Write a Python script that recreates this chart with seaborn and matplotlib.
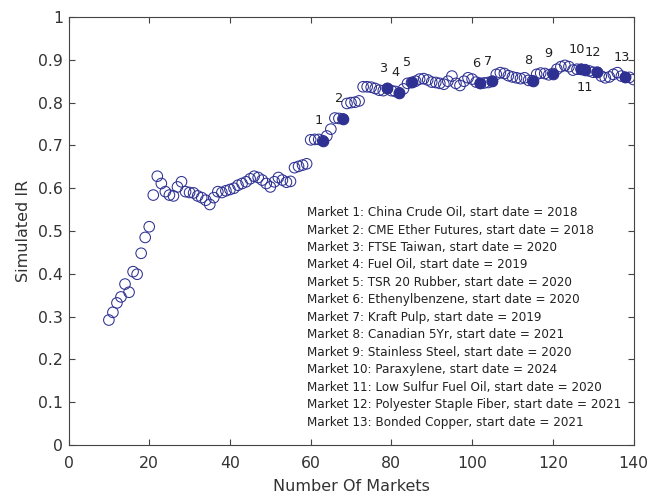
import seaborn as sns
import matplotlib.pyplot as plt
import pandas as pd

# simulated IR for each number of markets
n_markets = list(range(10, 141))
sim_ir = [
    0.292, 0.310, 0.332, 0.346, 0.376, 0.357, 0.405, 0.399, 0.448, 0.485,   # 10-19
    0.510, 0.584, 0.628, 0.611, 0.592, 0.584, 0.582, 0.603, 0.615, 0.592,   # 20-29
    0.590, 0.589, 0.582, 0.578, 0.572, 0.562, 0.578, 0.592, 0.590, 0.594,   # 30-39
    0.597, 0.600, 0.607, 0.611, 0.615, 0.622, 0.628, 0.625, 0.619, 0.611,   # 40-49
    0.603, 0.615, 0.625, 0.619, 0.614, 0.616, 0.648, 0.651, 0.654, 0.657,   # 50-59
    0.713, 0.714, 0.714, 0.711, 0.722, 0.738, 0.764, 0.763, 0.762, 0.798,   # 60-69
    0.800, 0.801, 0.804, 0.837, 0.837, 0.836, 0.833, 0.829, 0.828, 0.833,   # 70-79
    0.828, 0.826, 0.823, 0.832, 0.845, 0.847, 0.850, 0.855, 0.856, 0.853,   # 80-89
    0.848, 0.847, 0.845, 0.843, 0.850, 0.862, 0.845, 0.840, 0.850, 0.858,   # 90-99
    0.855, 0.848, 0.845, 0.846, 0.847, 0.850, 0.866, 0.870, 0.868, 0.863,   # 100-109
    0.860, 0.858, 0.856, 0.858, 0.852, 0.851, 0.866, 0.869, 0.868, 0.865,   # 110-119
    0.868, 0.878, 0.884, 0.887, 0.884, 0.876, 0.878, 0.878, 0.877, 0.874,   # 120-129
    0.871, 0.871, 0.862, 0.858, 0.860, 0.866, 0.870, 0.862, 0.859, 0.859,   # 130-139
    0.854,                                                                  # 140
]

# where each new market enters the portfolio
market_ids = list(range(1, 14))
market_pos = [63, 68, 79, 82, 85, 102, 105, 115, 120, 127, 128, 131, 138]
market_names = [
    "China Crude Oil", "CME Ether Futures", "FTSE Taiwan", "Fuel Oil",
    "TSR 20 Rubber", "Ethenylbenzene", "Kraft Pulp", "Canadian 5Yr",
    "Stainless Steel", "Paraxylene", "Low Sulfur Fuel Oil",
    "Polyester Staple Fiber", "Bonded Copper",
]
start_years = [2018, 2018, 2020, 2019, 2020, 2020, 2019, 2021, 2020, 2024, 2020, 2021, 2021]

df = pd.DataFrame({"n": n_markets, "ir": sim_ir})
marked = df[df["n"].isin(market_pos)]

sns.set_style("white")
plt.rcParams["font.family"] = ["DejaVu Sans"]

navy = "#2e3192"
fig = plt.figure(figsize=(6.55, 4.96), dpi=100)
ax = fig.add_axes([0.1046, 0.1028, 0.8626, 0.8629])

sns.scatterplot(data=df, x="n", y="ir", ax=ax, marker="o", s=58,
                facecolor="none", edgecolor=navy, linewidth=0.75)
sns.scatterplot(data=marked, x="n", y="ir", ax=ax, marker="o", s=58,
                color=navy, edgecolor=navy, linewidth=0.75)

# numbered labels next to each new market
for mid, pos in zip(market_ids, market_pos):
    yv = df.loc[df["n"] == pos, "ir"].iloc[0]
    if mid == 11:
        ax.text(pos, yv - 0.042, str(mid), ha="center", va="center", fontsize=9.3, color="#222222")
    else:
        ax.text(pos - 1.0, yv + 0.047, str(mid), ha="center", va="center", fontsize=9.3, color="#222222")

# list of markets
for i, (mid, name, yr) in enumerate(zip(market_ids, market_names, start_years)):
    ax.text(59, 0.543 - i * 0.0408, f"Market {mid}: {name}, start date = {yr}",
            ha="left", va="center", fontsize=8.65, color="#222222")

ax.set_xlim(0, 140)
ax.set_ylim(0, 1)
ax.set_xticks(range(0, 141, 20))
ax.set_yticks([i / 10 for i in range(11)])
ax.set_yticklabels(["0", "0.1", "0.2", "0.3", "0.4", "0.5", "0.6", "0.7", "0.8", "0.9", "1"])
ax.set_xlabel("Number Of Markets", fontsize=11.5, color="#333333", labelpad=6)
ax.set_ylabel("Simulated IR", fontsize=11.5, color="#333333", labelpad=5)
ax.tick_params(direction="in", length=4, width=0.8, color="#444444", labelsize=11.3,
               labelcolor="#333333", top=True, right=True, bottom=True, left=True)
ax.tick_params(axis="y", pad=4)
ax.tick_params(axis="x", pad=8)
for sp in ax.spines.values():
    sp.set_color("#444444")
    sp.set_linewidth(0.8)

fig.savefig("out.png", dpi=100)
